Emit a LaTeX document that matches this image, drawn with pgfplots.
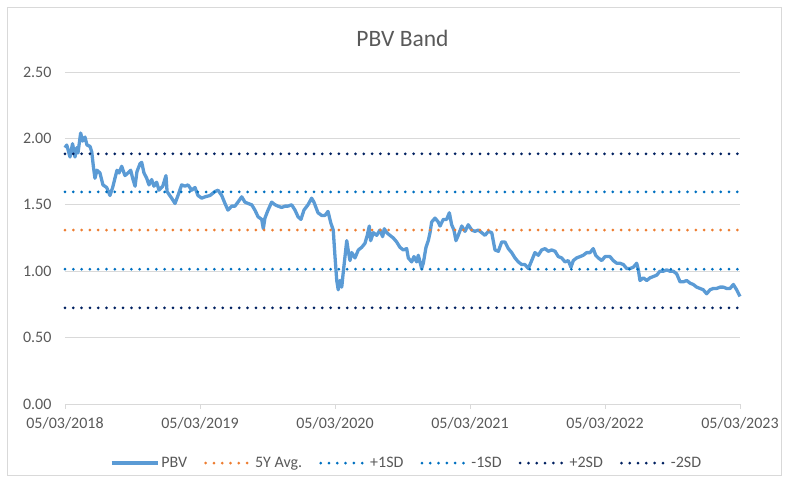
\documentclass[border=0pt]{standalone}
\usepackage{pgfplots}
\pgfplotsset{compat=1.18}
\usepackage{fontspec}
\setmainfont{Carlito}
\definecolor{pbv}{HTML}{5B9BD5}
\definecolor{avg}{HTML}{ED7D31}
\definecolor{sdone}{HTML}{0070C0}
\definecolor{sdtwo}{HTML}{002060}
\definecolor{gridc}{HTML}{D9D9D9}
\definecolor{textc}{HTML}{595959}
\definecolor{borderc}{HTML}{D9D9D9}
\begin{document}
\begin{tikzpicture}
\useasboundingbox (0pt,0pt) rectangle (788pt,482pt);
\draw[color=borderc, line width=0.75pt] (7pt,7pt) rectangle (781pt,475pt);
\begin{axis}[
  at={(65pt,78pt)}, anchor=south west,
  scale only axis, width=675pt, height=332pt,
  xmin=0, xmax=5, ymin=0, ymax=2.5,
  clip=false,
  axis x line*=bottom, axis y line*=left,
  x axis line style={color=gridc, line width=0.75pt},
  y axis line style={draw=none},
  xtick={0,1,2,3,4,5},
  xticklabels={05/03/2018,05/03/2019,05/03/2020,05/03/2021,05/03/2022,05/03/2023},
  ytick={0,0.5,1,1.5,2,2.5},
  yticklabels={0.00,0.50,1.00,1.50,2.00,2.50},
  ymajorgrids, grid style={color=gridc, line width=0.75pt},
  xtick style={color=gridc, line width=0.75pt},
  ytick style={draw=none},
  tick align=outside, major tick length=5pt,
  tick label style={font=\fontsize{16}{19}\selectfont, text=textc},
  yticklabel style={xshift=-5pt},
  xticklabel style={yshift=-5pt},
  title={PBV Band},
  title style={at={(0.5,1.084)}, anchor=center, font=\fontsize{23.5}{27}\selectfont, text=textc},
  legend columns=6,
  legend style={at={(0.506,-0.178)}, anchor=center, draw=none, fill=none,
    font=\fontsize{16}{19}\selectfont, text=textc,
    /tikz/every even column/.append style={column sep=15pt}},
  legend image code/.code={\draw[#1] (0pt,0pt) -- (46pt,0pt);},
  dotline/.style={line width=3pt, line cap=round, dash pattern=on 0pt off 8.3pt},
]
\addplot[color=pbv, line width=3.3pt, line join=round] table {
x y
0.000 1.93
0.013 1.95
0.037 1.86
0.056 1.96
0.074 1.86
0.087 1.93
0.096 1.89
0.116 2.04
0.131 1.98
0.148 2.01
0.163 1.95
0.185 1.94
0.198 1.90
0.210 1.79
0.222 1.70
0.237 1.76
0.259 1.74
0.281 1.65
0.309 1.63
0.333 1.57
0.353 1.63
0.370 1.70
0.385 1.76
0.400 1.74
0.420 1.79
0.444 1.72
0.467 1.74
0.487 1.76
0.501 1.70
0.519 1.64
0.533 1.75
0.556 1.81
0.568 1.82
0.585 1.74
0.605 1.70
0.622 1.65
0.642 1.69
0.659 1.64
0.679 1.67
0.696 1.61
0.724 1.64
0.748 1.72
0.756 1.60
0.790 1.55
0.815 1.51
0.837 1.57
0.864 1.65
0.889 1.64
0.911 1.65
0.939 1.61
0.963 1.63
0.985 1.57
1.013 1.55
1.037 1.56
1.074 1.57
1.111 1.60
1.133 1.61
1.161 1.57
1.185 1.51
1.207 1.46
1.235 1.49
1.259 1.49
1.281 1.52
1.309 1.56
1.333 1.52
1.356 1.51
1.383 1.50
1.407 1.46
1.430 1.41
1.457 1.39
1.469 1.32
1.481 1.40
1.504 1.46
1.531 1.52
1.556 1.50
1.578 1.49
1.605 1.48
1.630 1.49
1.652 1.49
1.679 1.50
1.704 1.46
1.726 1.41
1.748 1.39
1.770 1.46
1.800 1.50
1.827 1.55
1.844 1.52
1.874 1.44
1.901 1.42
1.926 1.42
1.948 1.45
1.970 1.36
1.987 1.31
2.000 1.11
2.013 0.93
2.024 0.86
2.037 0.93
2.050 0.88
2.061 0.99
2.074 1.11
2.087 1.23
2.099 1.15
2.111 1.08
2.124 1.14
2.148 1.10
2.173 1.16
2.198 1.18
2.222 1.21
2.239 1.27
2.254 1.34
2.264 1.23
2.284 1.29
2.309 1.27
2.333 1.31
2.353 1.26
2.365 1.32
2.383 1.29
2.407 1.27
2.432 1.25
2.457 1.22
2.481 1.18
2.506 1.16
2.531 1.17
2.543 1.10
2.568 1.07
2.585 1.11
2.605 1.07
2.617 1.12
2.642 1.02
2.654 1.06
2.674 1.18
2.691 1.23
2.704 1.29
2.716 1.37
2.741 1.40
2.765 1.37
2.778 1.34
2.802 1.39
2.827 1.39
2.847 1.44
2.864 1.35
2.881 1.31
2.896 1.23
2.913 1.27
2.939 1.34
2.963 1.30
2.987 1.35
3.013 1.31
3.037 1.30
3.061 1.31
3.087 1.29
3.111 1.27
3.136 1.30
3.161 1.29
3.185 1.16
3.210 1.15
3.235 1.22
3.259 1.22
3.284 1.17
3.309 1.14
3.333 1.10
3.358 1.07
3.383 1.05
3.407 1.05
3.432 1.02
3.457 1.08
3.481 1.14
3.506 1.12
3.531 1.16
3.556 1.17
3.580 1.15
3.605 1.16
3.630 1.15
3.654 1.11
3.679 1.10
3.704 1.07
3.728 1.08
3.748 1.03
3.765 1.08
3.790 1.10
3.815 1.11
3.839 1.12
3.864 1.14
3.889 1.14
3.913 1.17
3.931 1.12
3.950 1.10
3.976 1.08
4.000 1.11
4.037 1.11
4.061 1.08
4.087 1.06
4.111 1.06
4.136 1.05
4.161 1.02
4.185 1.02
4.210 1.03
4.235 1.06
4.247 1.01
4.259 0.93
4.284 0.95
4.309 0.93
4.333 0.95
4.358 0.96
4.383 0.97
4.407 1.00
4.432 1.00
4.457 1.01
4.481 1.00
4.506 1.00
4.531 0.98
4.556 0.92
4.580 0.92
4.605 0.93
4.630 0.91
4.654 0.90
4.679 0.88
4.704 0.87
4.728 0.86
4.753 0.83
4.778 0.86
4.802 0.87
4.827 0.87
4.852 0.88
4.877 0.88
4.901 0.87
4.926 0.87
4.951 0.90
4.975 0.86
5.000 0.81
};
\addlegendentry{PBV}
\addplot[color=avg, dotline] coordinates {(0,1.31) (5,1.31)};
\addlegendentry{5Y Avg.}
\addplot[color=sdone, dotline] coordinates {(0,1.597) (5,1.597)};
\addlegendentry{+1SD}
\addplot[color=sdone, dotline] coordinates {(0,1.015) (5,1.015)};
\addlegendentry{-1SD}
\addplot[color=sdtwo, dotline] coordinates {(0,1.884) (5,1.884)};
\addlegendentry{+2SD}
\addplot[color=sdtwo, dotline] coordinates {(0,0.724) (5,0.724)};
\addlegendentry{-2SD}
\end{axis}
\end{tikzpicture}
\end{document}
